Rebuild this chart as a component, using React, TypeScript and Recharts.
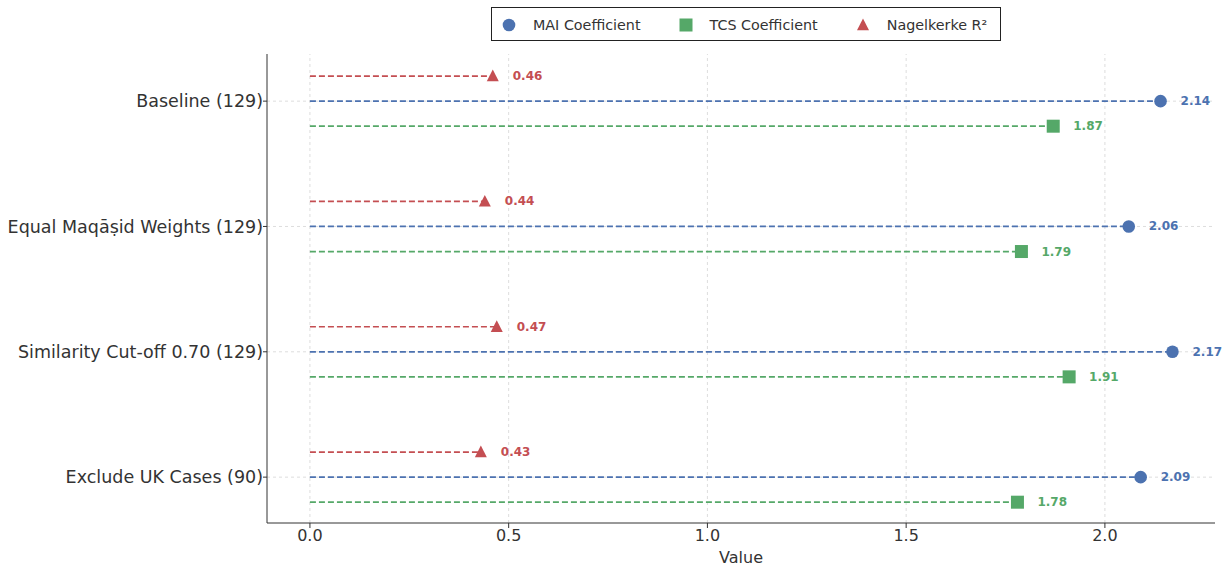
import {
  ScatterChart,
  Scatter,
  XAxis,
  YAxis,
  ReferenceLine,
} from 'recharts';

// Robustness checks: one row per specification
const categories = [
  'Baseline (129)',
  'Equal Maqāṣid Weights (129)',
  'Similarity Cut-off 0.70 (129)',
  'Exclude UK Cases (90)',
];
const maiValues = [2.14, 2.06, 2.17, 2.09];
const tcsValues = [1.87, 1.79, 1.91, 1.78];
const r2Values = [0.46, 0.44, 0.47, 0.43];
const xTicks = [0, 0.5, 1, 1.5, 2];
const yTicks = [0, 1, 2, 3];

type Kind = 'circle' | 'square' | 'triangle';

const series: { name: string; values: number[]; offset: number; color: string; kind: Kind }[] = [
  { name: 'MAI Coefficient', values: maiValues, offset: 0, color: '#4C72B0', kind: 'circle' },
  { name: 'TCS Coefficient', values: tcsValues, offset: 0.2, color: '#55A868', kind: 'square' },
  { name: 'Nagelkerke R²', values: r2Values, offset: -0.2, color: '#C44E52', kind: 'triangle' },
];

const FONT = '"DejaVu Sans", sans-serif';
const GRID = '#d9d9d9';

const drawMarker = (kind: Kind, color: string, cx: number, cy: number) => {
  if (kind === 'circle') return <circle cx={cx} cy={cy} r={6.3} fill={color} />;
  if (kind === 'square') return <rect x={cx - 6.5} y={cy - 6.5} width={13} height={13} fill={color} />;
  return (
    <polygon
      points={`${cx},${cy - 6.5} ${cx - 6},${cy + 5.2} ${cx + 6},${cy + 5.2}`}
      fill={color}
    />
  );
};

const makeShape = (kind: Kind, color: string) => (props: any) => {
  const { cx, cy, payload } = props;
  return (
    <g>
      {drawMarker(kind, color, cx, cy)}
      <text
        x={cx + 20}
        y={cy}
        fill={color}
        fontSize={12}
        fontWeight="bold"
        fontFamily={FONT}
        dominantBaseline="central"
      >
        {payload.x.toFixed(2)}
      </text>
    </g>
  );
};

const LegendBox = () => (
  <div
    style={{
      position: 'absolute',
      left: 491,
      top: 7,
      width: 510,
      height: 34,
      boxSizing: 'border-box',
      border: '1px solid #222',
      display: 'flex',
      alignItems: 'center',
      paddingLeft: 10,
      paddingTop: 2,
      fontFamily: FONT,
      fontSize: 14.3,
      color: '#333',
      background: '#fff',
      whiteSpace: 'nowrap',
    }}
  >
    {series.map((s) => (
      <div key={s.name} style={{ display: 'flex', alignItems: 'center', marginRight: 38, flexShrink: 0 }}>
        <svg width={14} height={14} style={{ marginRight: 17 }}>
          {drawMarker(s.kind, s.color, 7, 7)}
        </svg>
        <span>{s.name}</span>
      </div>
    ))}
  </div>
);

const App = () => {
  const rows = series.map((s) => ({
    ...s,
    points: s.values.map((v, i) => ({ x: v, y: i + s.offset })),
  }));

  return (
    <div style={{ position: 'absolute', left: 0, top: 0, width: 1222, height: 566, fontFamily: FONT }}>
      <ScatterChart width={1222} height={566} margin={{ top: 54, right: 7, bottom: 0, left: 0 }}>
        <XAxis
          type="number"
          dataKey="x"
          domain={[-0.108, 2.277]}
          ticks={xTicks}
          interval={0}
          tickFormatter={(v: number) => v.toFixed(1)}
          height={43}
          tickSize={5}
          stroke="#333"
          tick={{ fill: '#333', fontSize: 16, fontFamily: FONT }}
          label={{ value: 'Value', position: 'insideBottom', offset: 3, fill: '#333', fontSize: 16, fontFamily: FONT }}
        />
        <YAxis
          type="number"
          dataKey="y"
          domain={[-0.376, 3.366]}
          reversed
          ticks={yTicks}
          interval={0}
          tickFormatter={(i: number) => categories[i] ?? ''}
          width={267}
          tickSize={4}
          tickMargin={0}
          stroke="#333"
          tick={{ fill: '#333', fontSize: 17.5, fontFamily: FONT }}
        />
        {xTicks.map((t) => (
          <ReferenceLine key={`gx-${t}`} x={t} stroke={GRID} strokeDasharray="3 3" strokeWidth={0.9} />
        ))}
        {yTicks.map((t) => (
          <ReferenceLine key={`gy-${t}`} y={t} stroke={GRID} strokeDasharray="3 3" strokeWidth={0.9} />
        ))}
        {rows.flatMap((s) =>
          s.points.map((p, i) => (
            <ReferenceLine
              key={`${s.name}-line-${i}`}
              segment={[{ x: 0, y: p.y }, { x: p.x, y: p.y }]}
              stroke={s.color}
              strokeWidth={1.7}
              strokeDasharray="6 3"
            />
          ))
        )}
        {rows.map((s) => (
          <Scatter
            key={s.name}
            name={s.name}
            data={s.points}
            fill={s.color}
            shape={makeShape(s.kind, s.color)}
            isAnimationActive={false}
          />
        ))}
      </ScatterChart>
      <LegendBox />
    </div>
  );
};

export default App;
